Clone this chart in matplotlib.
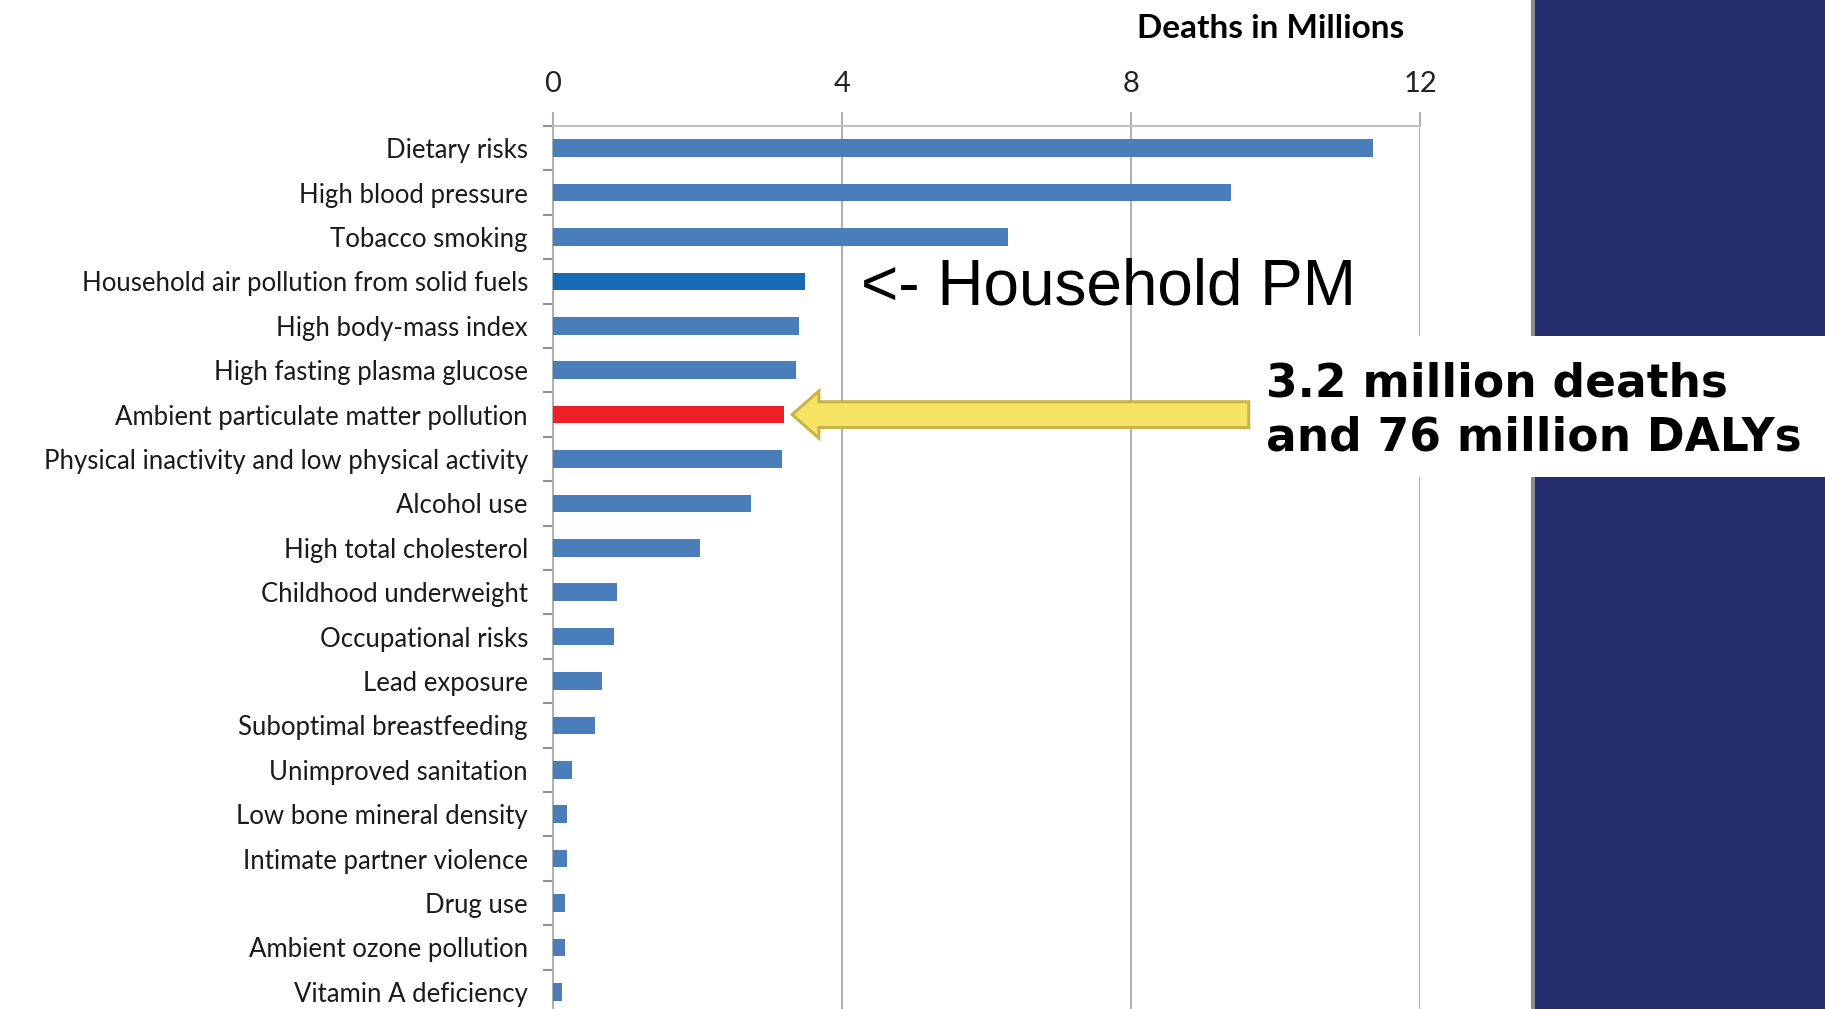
import matplotlib.pyplot as plt
from matplotlib.patches import Rectangle, FancyArrow
import numpy as np

# risk factors and deaths (millions)
risks = ['Dietary risks', 'High blood pressure', 'Tobacco smoking',
         'Household air pollution from solid fuels', 'High body-mass index',
         'High fasting plasma glucose', 'Ambient particulate matter pollution',
         'Physical inactivity and low physical activity', 'Alcohol use',
         'High total cholesterol', 'Childhood underweight', 'Occupational risks',
         'Lead exposure', 'Suboptimal breastfeeding', 'Unimproved sanitation',
         'Low bone mineral density', 'Intimate partner violence', 'Drug use',
         'Ambient ozone pollution', 'Vitamin A deficiency']
deaths = [11.35, 9.39, 6.30, 3.49, 3.40, 3.36, 3.2, 3.17, 2.74, 2.03,
          0.88, 0.85, 0.68, 0.58, 0.26, 0.20, 0.20, 0.17, 0.17, 0.13]
xticks = [0, 4, 8, 12]

household = 'Household air pollution from solid fuels'
ambient = 'Ambient particulate matter pollution'
pm_deaths = 3.2
pm_dalys = 76

W, H = 1825, 1009
fig = plt.figure(figsize=(W / 100, H / 100), dpi=100)

def px(x0, y0, w, h):
    # pixel box (from top left) -> figure fraction rect
    return (x0 / W, 1 - (y0 + h) / H, w / W, h / H)

ax = fig.add_axes(px(553, 126, 867, 888))

colors = []
for r in risks:
    if r == household:
        colors.append('#176BB5')
    elif r == ambient:
        colors.append('#EE1F25')
    else:
        colors.append('#4A7EBB')

y = np.arange(len(risks))
ax.barh(y, deaths, height=0.4, color=colors, zorder=3)

ax.set_xlim(0, 12)
ax.set_ylim(len(risks) - 0.5, -0.5)
ax.set_xticks(xticks)
ax.set_xticklabels([str(t) for t in xticks], family='Lato', fontsize=21, color='#222222')
ax.xaxis.tick_top()
ax.tick_params(axis='x', which='major', length=10, width=1.5, color='#B0B0B0', pad=11)

ax.set_yticks(y)
ax.set_yticklabels(risks, family='Lato', fontsize=18.5, color='#1a1a1a')
ax.set_yticks(np.arange(-0.5, len(risks), 1), minor=True)
ax.tick_params(axis='y', which='major', length=0, pad=18)
ax.tick_params(axis='y', which='minor', length=7, width=1.5, color='#909090')

ax.grid(axis='x', color='#B0B0B0', linewidth=1.5, zorder=0)
for s in ['right', 'bottom']:
    ax.spines[s].set_visible(False)
ax.spines['top'].set_color('#C0C0C0')
ax.spines['top'].set_linewidth(1.5)
ax.spines['left'].set_color('#B0B0B0')
ax.spines['left'].set_linewidth(1.5)

fig.text(1271 / W, 1 - 28 / H, 'Deaths in Millions', family='Lato', fontweight='bold',
         fontsize=24, ha='center', va='center')

# household PM note
row_h = risks.index(household)
ax.text(4.26, row_h, '<- Household PM', family='Liberation Sans', fontsize=46,
        ha='left', va='center_baseline', zorder=5)

# yellow arrow pointing at the ambient PM bar
row_a = risks.index(ambient)
tip = pm_deaths + 0.11
tail = 9.63
arrow = FancyArrow(tail, row_a, tip - tail, 0, width=0.58, head_width=1.06,
                   head_length=0.37, length_includes_head=True,
                   facecolor='#F7E464', edgecolor='#C9B44A', linewidth=2.2,
                   zorder=6, clip_on=False)
ax.add_patch(arrow)

# navy side panel with the white callout box
fig.add_artist(Rectangle(px(1531, 0, 4, H)[:2], 4 / W, 1, transform=fig.transFigure,
                         facecolor='#8C8C8C', edgecolor='none', zorder=1))
fig.add_artist(Rectangle(px(1535, 0, W - 1535, H)[:2], (W - 1535) / W, 1,
                         transform=fig.transFigure, facecolor='#252C6B',
                         edgecolor='none', zorder=1))
b = px(1255, 336, W - 1255, 141)
fig.add_artist(Rectangle(b[:2], b[2], b[3], transform=fig.transFigure,
                         facecolor='white', edgecolor='none', zorder=4))
fig.text(1266 / W, 1 - 379 / H, f'{pm_deaths} million deaths', family='DejaVu Sans',
         fontweight='bold', fontsize=32.8, ha='left', va='center_baseline', zorder=5)
fig.text(1266 / W, 1 - 433 / H, f'and {pm_dalys} million DALYs', family='DejaVu Sans',
         fontweight='bold', fontsize=32.8, ha='left', va='center_baseline', zorder=5)

fig.savefig('out.png', dpi=100)
